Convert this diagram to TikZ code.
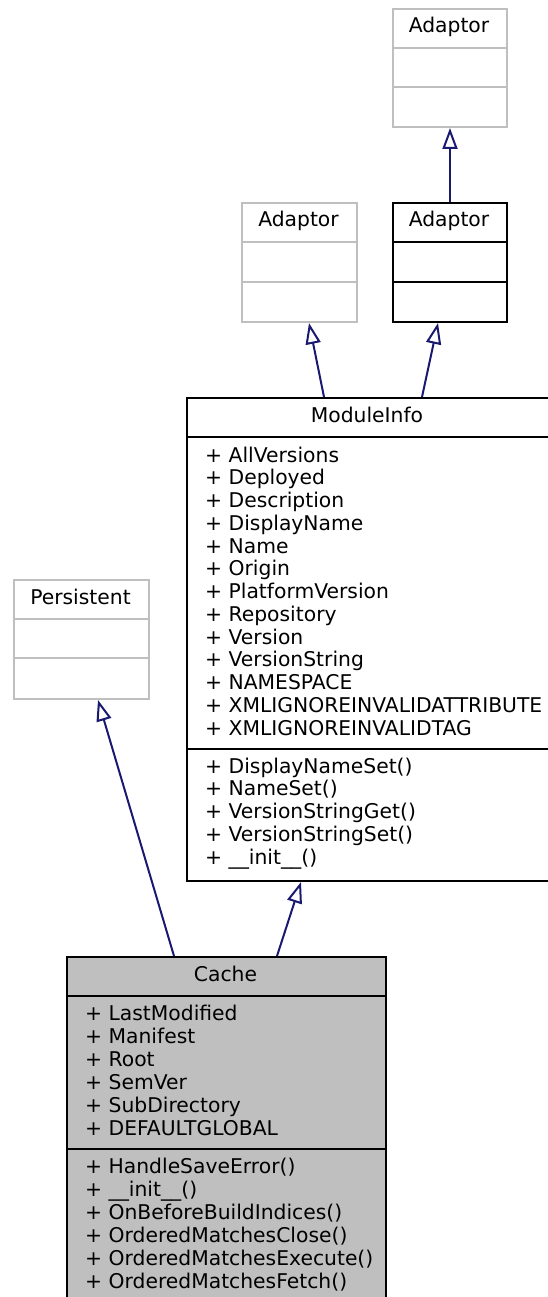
\documentclass[tikz,border=0pt]{standalone}
\usepackage{fontspec}
\setmainfont{DejaVu Sans}
\usetikzlibrary{arrows.meta}
\definecolor{edgeblue}{HTML}{191970}
\definecolor{grayline}{HTML}{BFBFBF}
\definecolor{cachefill}{HTML}{BFBFBF}
\begin{document}
\begin{tikzpicture}[x=1pt,y=1pt,
  box/.style={draw=black,line width=2pt,inner sep=0pt,anchor=north west},
  graybox/.style={draw=grayline,line width=2pt,inner sep=0pt,anchor=north west},
  title/.style={anchor=base,inner sep=0pt,font=\fontsize{20.3}{23}\selectfont},
  member/.style={anchor=base west,inner sep=0pt,font=\fontsize{20.3}{23}\selectfont},
  inh/.style={draw=edgeblue,line width=2pt,-{Triangle[open,length=21pt,width=15pt]}}]
\useasboundingbox (0,0) rectangle (547,-1297);

% Adaptor (top, gray)
\node[graybox,minimum width=114pt,minimum height=118pt] (adT) at (392,-8) {};
\draw[grayline,line width=2pt] (392,-48) -- (506,-48) (392,-87) -- (506,-87);
\node[title] (adTt) at (449,-33) {Adaptor};

% Adaptor (middle, gray)
\node[graybox,minimum width=115pt,minimum height=119pt] (adG) at (241,-202) {};
\draw[grayline,line width=2pt] (241,-242) -- (356,-242) (241,-282) -- (356,-282);
\node[title] (adGt) at (298.5,-227) {Adaptor};

% Adaptor (black)
\node[box,minimum width=114pt,minimum height=119pt] (adB) at (392,-202) {};
\draw[black,line width=2pt] (392,-242) -- (506,-242) (392,-282) -- (506,-282);
\node[title] (adBt) at (449,-227) {Adaptor};

% ModuleInfo
\node[box,minimum width=363pt,minimum height=483pt] (mod) at (186,-397) {};
\draw[black,line width=2pt] (186,-437) -- (549,-437) (186,-749) -- (549,-749);
\node[title] (modt) at (367,-422) {ModuleInfo};
\foreach \t [count=\i from 0] in {AllVersions,Deployed,Description,DisplayName,Name,Origin,PlatformVersion,Repository,Version,VersionString,NAMESPACE,XMLIGNOREINVALIDATTRIBUTE,XMLIGNOREINVALIDTAG}
  \node[member] (modA\i) at (205,-462-22.75*\i) {+ \t};
\foreach \t [count=\i from 0] in {DisplayNameSet(),NameSet(),VersionStringGet(),VersionStringSet(),\_\_init\_\_()}
  \node[member] (modM\i) at (205,-773-22.75*\i) {+ \t};

% Persistent
\node[graybox,minimum width=135pt,minimum height=119pt] (per) at (13,-579) {};
\draw[grayline,line width=2pt] (13,-619) -- (148,-619) (13,-658) -- (148,-658);
\node[title] (pert) at (80.5,-604) {Persistent};

% Cache
\node[box,fill=cachefill,minimum width=319pt,minimum height=344pt] (cache) at (66,-956) {};
\draw[black,line width=2pt] (66,-996) -- (385,-996) (66,-1149) -- (385,-1149);
\node[title] (cachet) at (225.5,-981) {Cache};
\foreach \t [count=\i from 0] in {LastModified,Manifest,Root,SemVer,SubDirectory,DEFAULTGLOBAL}
  \node[member] (cacheA\i) at (85,-1020-23*\i) {+ \t};
\foreach \t [count=\i from 0] in {HandleSaveError(),\_\_init\_\_(),OnBeforeBuildIndices(),OrderedMatchesClose(),OrderedMatchesExecute(),OrderedMatchesFetch()}
  \node[member] (cacheM\i) at (85,-1173-23*\i) {+ \t};

% Inheritance edges
\draw[inh] (adB.north) -- (adT.south);
\draw[inh] ([xshift=138pt]mod.north west) -- ([xshift=68pt]adG.south west);
\draw[inh] ([xshift=236pt]mod.north west) -- ([xshift=46pt]adB.south west);
\draw[inh] ([xshift=108pt]cache.north west) -- ([xshift=85pt]per.south west);
\draw[inh] ([xshift=211pt]cache.north west) -- ([xshift=115pt]mod.south west);
\end{tikzpicture}
\end{document}
